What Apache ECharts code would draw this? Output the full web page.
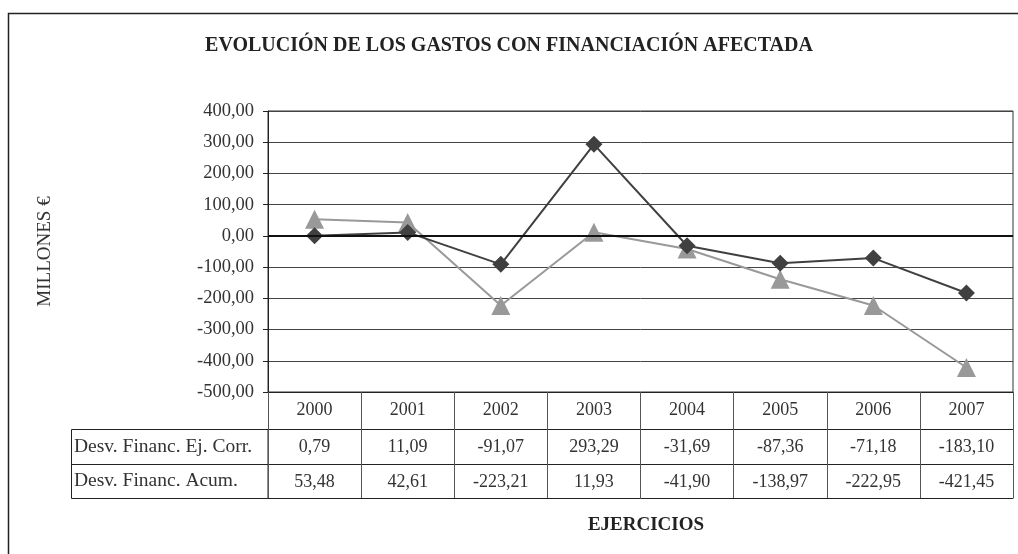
<!DOCTYPE html>
<html>
<head>
<meta charset="utf-8">
<script src="https://cdn.jsdelivr.net/npm/echarts@6/dist/echarts.min.js"></script>
<style>
  html, body { margin: 0; padding: 0; background: #fff; }
  #chart { width: 1018px; height: 554px; }
</style>
</head>
<body>
<div id="chart"></div>
<script>
const years = ['2000', '2001', '2002', '2003', '2004', '2005', '2006', '2007']
const desvEjCorr = [0.79, 11.09, -91.07, 293.29, -31.69, -87.36, -71.18, -183.10]
const desvAcum = [53.48, 42.61, -223.21, 11.93, -41.90, -138.97, -222.95, -421.45]
const seriesNames = ['Desv. Financ. Ej. Corr.', 'Desv. Financ. Acum.']

const FONT = 'Liberation Serif'
const TEXT = '#333'

const fmt = (v) => v.toFixed(2).replace('.', ',')

const chart = echarts.init(document.getElementById('chart'))

// table rows live on extra category axes pushed below the plot
function tableAxis(offset, values, tickLen) {
	return {
		type: 'category',
		data: years,
		position: 'bottom',
		offset: offset,
		boundaryGap: true,
		axisLine: { show: true, onZero: false, lineStyle: { color: '#222', width: 1 } },
		axisTick: { show: tickLen > 0, alignWithLabel: false, length: tickLen, lineStyle: { color: '#555', width: 1 } },
		axisLabel: {
			show: !!values,
			margin: 9,
			fontFamily: FONT,
			fontSize: 18,
			color: TEXT,
			formatter: (val, idx) => (values ? values[idx] : '')
		},
		splitLine: { show: false }
	}
}

const option = {
	animation: false,
	backgroundColor: '#fff',
	title: [
		{
			text: 'EVOLUCIÓN DE LOS GASTOS CON FINANCIACIÓN AFECTADA',
			left: 'center',
			top: 31,
			textStyle: { fontFamily: FONT, fontSize: 20, fontWeight: 'bold', color: '#222' }
		},
		{
			text: 'EJERCICIOS',
			left: 641,
			textAlign: 'center',
			top: 511,
			textStyle: { fontFamily: FONT, fontSize: 19, fontWeight: 'bold', color: '#222' }
		}
	],
	grid: {
		left: 268,
		right: 5,
		top: 111,
		height: 281,
		show: true,
		borderColor: '#333',
		borderWidth: 1
	},
	xAxis: [
		tableAxis(0, years, 37),
		tableAxis(37, desvEjCorr.map(fmt), 35),
		tableAxis(72, desvAcum.map(fmt), 34),
		tableAxis(106, null, 0)
	],
	yAxis: {
		type: 'value',
		min: -500,
		max: 400,
		interval: 100,
		name: 'MILLONES €',
		nameLocation: 'middle',
		nameGap: 213,
		nameTextStyle: { fontFamily: FONT, fontSize: 19, color: TEXT },
		axisLine: { show: true, lineStyle: { color: '#222' } },
		axisTick: { show: true, length: 5, lineStyle: { color: '#222' } },
		axisLabel: { fontFamily: FONT, fontSize: 18.5, color: TEXT, margin: 14, formatter: (v) => fmt(v) },
		splitLine: { show: true, lineStyle: { color: '#444', width: 1 } }
	},
	graphic: [
		{
			type: 'rect',
			silent: true,
			shape: { x: 8.5, y: 13.5, width: 1040, height: 600 },
			style: { fill: 'none', stroke: '#222', lineWidth: 1.5 }
		},
		{
			type: 'rect',
			silent: true,
			shape: { x: 71.5, y: 429.5, width: 196.5, height: 69 },
			style: { fill: 'none', stroke: '#222', lineWidth: 1 }
		},
		{
			type: 'line',
			silent: true,
			shape: { x1: 71.5, y1: 464.5, x2: 268, y2: 464.5 },
			style: { stroke: '#222', lineWidth: 1 }
		},
		{
			type: 'text',
			silent: true,
			x: 74,
			y: 447,
			style: { text: seriesNames[0], fontFamily: FONT, fontSize: 19.5, fill: TEXT, verticalAlign: 'middle' }
		},
		{
			type: 'text',
			silent: true,
			x: 74,
			y: 481,
			style: { text: seriesNames[1], fontFamily: FONT, fontSize: 19.5, fill: TEXT, verticalAlign: 'middle' }
		}
	],
	series: [
		{
			name: seriesNames[0],
			type: 'line',
			xAxisIndex: 0,
			data: desvEjCorr,
			symbol: 'diamond',
			symbolSize: 17,
			z: 3,
			lineStyle: { color: '#404040', width: 2 },
			itemStyle: { color: '#404040' },
			markLine: {
				silent: true,
				symbol: 'none',
				label: { show: false },
				lineStyle: { color: '#111', width: 2, type: 'solid' },
				data: [{ yAxis: 0 }]
			}
		},
		{
			name: seriesNames[1],
			type: 'line',
			xAxisIndex: 0,
			data: desvAcum,
			symbol: 'triangle',
			symbolSize: 19,
			z: 2,
			lineStyle: { color: '#999', width: 2 },
			itemStyle: { color: '#999' }
		}
	]
}

chart.setOption(option)
window.addEventListener('resize', () => chart.resize())
</script>
</body>
</html>
